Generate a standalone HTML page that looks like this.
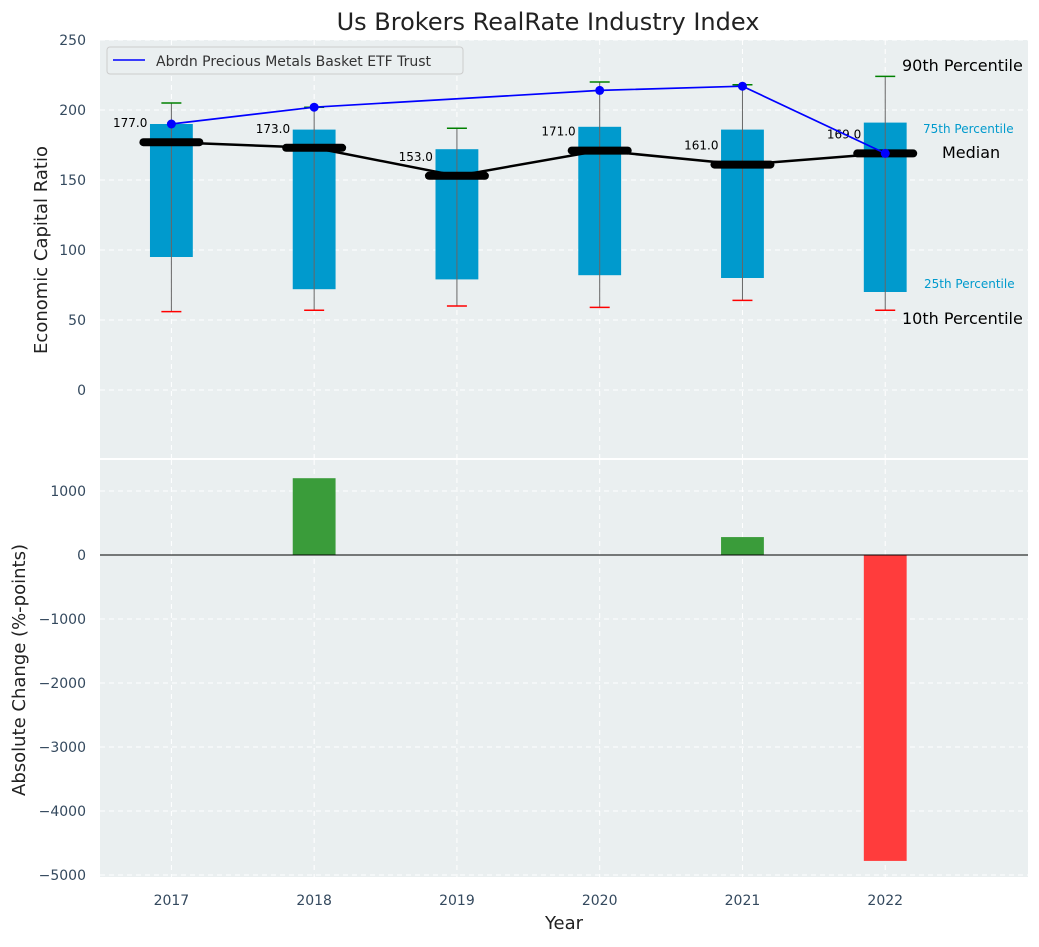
<!DOCTYPE html>
<html><head><meta charset="utf-8"><style>
body{margin:0;background:#fff;font-family:"Liberation Sans","DejaVu Sans",sans-serif}
svg text{font-family:"DejaVu Sans","Liberation Sans",sans-serif}
</style></head><body>
<svg id="c" width="1039" height="942" xmlns="http://www.w3.org/2000/svg"></svg>
<script>
const years=[2017,2018,2019,2020,2021,2022];
const p10=[56,57,60,59,64,57];
const p25=[95,72,79,82,80,70];
const p50=[177,173,153,171,161,169];
const p75=[190,186,172,188,186,191];
const p90=[205,202,187,220,218,224];
const etf=[190,202,null,214,217,169];
const change=[0,1200,0,0,280,-4780];
const topTicks=[0,50,100,150,200,250];
const botTicks=[-5000,-4000,-3000,-2000,-1000,0,1000];

const NS="http://www.w3.org/2000/svg";
const svg=document.getElementById('c');
function el(t,a,p){const e=document.createElementNS(NS,t);for(const k in a)e.setAttribute(k,a[k]);(p||svg).appendChild(e);return e;}
const L=100,R=1028;
const x=v=>L+(v-2016.5)/(6.5)*(R-L);
const yT=v=>40+(250-v)*1.4;
const yB=v=>555-v*0.064;

let bg=el('rect',{x:L,y:40,width:R-L,height:418,fill:'#eaeff0'});

let bg2=el('rect',{x:L,y:460,width:R-L,height:417,fill:'#eaeff0'});


years.forEach(yr=>{
 el('line',{x1:x(yr),x2:x(yr),y1:40,y2:458,stroke:'#fff','stroke-dasharray':'5,4'});
 el('line',{x1:x(yr),x2:x(yr),y1:460,y2:877,stroke:'#fff','stroke-dasharray':'5,4'});
 const t=el('text',{x:x(yr),y:905,'text-anchor':'middle','font-size':14,fill:'#34495e'});t.textContent=yr;
 
});
topTicks.forEach(v=>{
 el('line',{x1:L,x2:R,y1:yT(v),y2:yT(v),stroke:'#fff','stroke-dasharray':'5,4'});
 const t=el('text',{x:86,y:yT(v)+5,'text-anchor':'end','font-size':14,fill:'#34495e'});t.textContent=v;
 
});
botTicks.forEach(v=>{
 el('line',{x1:L,x2:R,y1:yB(v),y2:yB(v),stroke:'#fff','stroke-dasharray':'5,4'});
 const t=el('text',{x:86,y:yB(v)+5,'text-anchor':'end','font-size':14,fill:'#34495e'});t.textContent=v<0?'\u2212'+(-v):v;
 
});

const bw=(R-L)/6.5*0.3;
years.forEach((yr,i)=>{
 const cx=x(yr);
 const b=el('rect',{x:cx-bw/2,y:yT(p75[i]),width:bw,height:yT(p25[i])-yT(p75[i]),fill:'#009acd'});
 
 el('line',{x1:cx,x2:cx,y1:yT(p90[i]),y2:yT(p10[i]),stroke:'#666','stroke-width':1});
 el('line',{x1:cx-10,x2:cx+10,y1:yT(p90[i]),y2:yT(p90[i]),stroke:'green','stroke-width':1.5});
 el('line',{x1:cx-10,x2:cx+10,y1:yT(p10[i]),y2:yT(p10[i]),stroke:'red','stroke-width':1.5});
});
let pts=years.map((yr,i)=>x(yr)+','+yT(p50[i])).join(' ');
let ml=el('polyline',{points:pts,fill:'none',stroke:'#000','stroke-width':2.5});

years.forEach((yr,i)=>{
 const cx=x(yr);
 el('line',{x1:cx-28,x2:cx+28,y1:yT(p50[i]),y2:yT(p50[i]),stroke:'#000','stroke-width':8,'stroke-linecap':'round'});
 const t=el('text',{x:cx-24,y:yT(p50[i])-15,'text-anchor':'end','font-size':12,fill:'#000'});t.textContent=p50[i].toFixed(1);
 
});
let ep=[];years.forEach((yr,i)=>{if(etf[i]!=null)ep.push([x(yr),yT(etf[i])]);});
let eline=el('polyline',{points:ep.map(p=>p.join(',')).join(' '),fill:'none',stroke:'blue','stroke-width':1.7});

ep.forEach(p=>{const c=el('circle',{cx:p[0],cy:p[1],r:4.5,fill:'blue'});});

const ann=[['90th Percentile',902,71,16,'#000'],['75th Percentile',923,133,12,'#009acd'],['Median',942,158,16,'#000'],['25th Percentile',924,288,12,'#009acd'],['10th Percentile',902,324,16,'#000']];
ann.forEach(a=>{const t=el('text',{x:a[1],y:a[2],'font-size':a[3],fill:a[4]});t.textContent=a[0];});

const lg=el('g',{});
el('rect',{x:107,y:47,width:356,height:27,rx:3,fill:'#eaeff0',stroke:'#ccc'},lg);
el('line',{x1:113,x2:145,y1:60,y2:60,stroke:'blue','stroke-width':1.5},lg);
const lt=el('text',{x:156,y:66,'font-size':14,fill:'#333'},lg);lt.textContent='Abrdn Precious Metals Basket ETF Trust';

years.forEach((yr,i)=>{
 if(change[i]===0)return;
 const y0=yB(Math.max(0,change[i])),y1=yB(Math.min(0,change[i]));
 const b=el('rect',{x:x(yr)-bw/2,y:y0,width:bw,height:y1-y0,fill:change[i]>0?'#3a9c3a':'#ff3c3c'});
 
});
el('line',{x1:L,x2:R,y1:yB(0),y2:yB(0),stroke:'#000','stroke-width':1});

let t=el('text',{x:548,y:30,'text-anchor':'middle','font-size':24,fill:'#222'});t.textContent='Us Brokers RealRate Industry Index';
t=el('text',{x:564,y:929,'text-anchor':'middle','font-size':18,fill:'#222'});t.textContent='Year';
t=el('text',{x:0,y:0,'text-anchor':'middle','font-size':18,fill:'#222',transform:'translate(47,250) rotate(-90)'});t.textContent='Economic Capital Ratio';
t=el('text',{x:0,y:0,'text-anchor':'middle','font-size':18,fill:'#222',transform:'translate(25,670) rotate(-90)'});t.textContent='Absolute Change (%-points)';
</script>
</body></html>
